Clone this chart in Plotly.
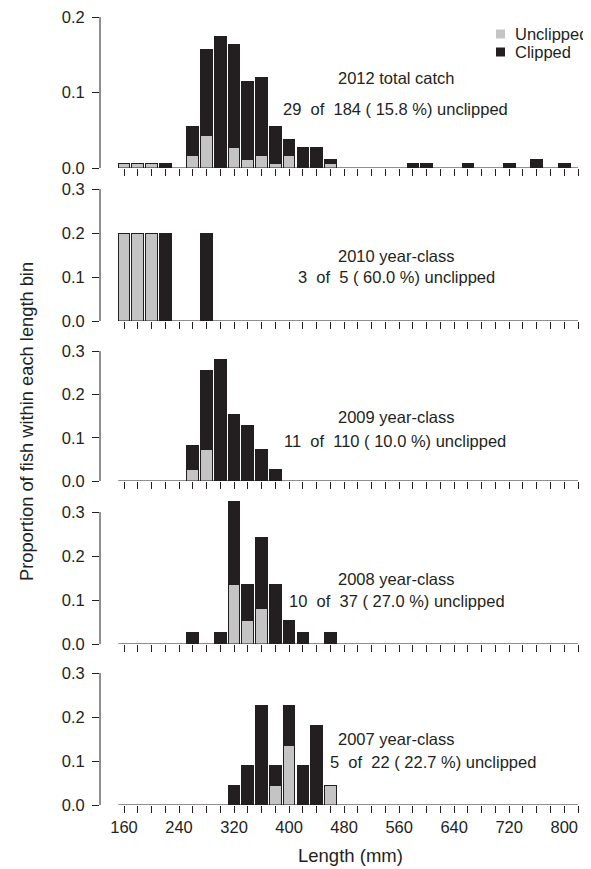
import plotly.graph_objects as go

# ---------------- data (fish counts per 20-mm length bin) ----------------
panel_labels = ["2012 total catch", "2010 year-class", "2009 year-class",
                "2008 year-class", "2007 year-class"]

len_2012 = [160, 180, 200, 220, 260, 280, 300, 320, 340, 360, 380, 400, 420, 440, 460, 580, 600, 660, 720, 760, 800]
unc_2012 = [1, 1, 1, 0, 3, 8, 0, 5, 2, 3, 1, 3, 0, 0, 1, 0, 0, 0, 0, 0, 0]
clp_2012 = [0, 0, 0, 1, 7, 21, 32, 25, 19, 19, 9, 4, 5, 5, 1, 1, 1, 1, 1, 2, 1]

len_2010 = [160, 180, 200, 220, 280]
unc_2010 = [1, 1, 1, 0, 0]
clp_2010 = [0, 0, 0, 1, 1]

len_2009 = [260, 280, 300, 320, 340, 360, 380]
unc_2009 = [3, 8, 0, 0, 0, 0, 0]
clp_2009 = [6, 20, 31, 17, 14, 8, 3]

len_2008 = [260, 300, 320, 340, 360, 380, 400, 420, 460]
unc_2008 = [0, 0, 5, 2, 3, 0, 0, 0, 0]
clp_2008 = [1, 1, 7, 3, 6, 5, 2, 1, 1]

len_2007 = [320, 340, 360, 380, 400, 420, 440, 460]
unc_2007 = [0, 0, 0, 1, 3, 0, 0, 1]
clp_2007 = [1, 2, 5, 1, 2, 2, 4, 0]

x_ticks = list(range(160, 821, 20))
x_label_vals = [160, 240, 320, 400, 480, 560, 640, 720, 800]

panels = [
    (len_2012, unc_2012, clp_2012),
    (len_2010, unc_2010, clp_2010),
    (len_2009, unc_2009, clp_2009),
    (len_2008, unc_2008, clp_2008),
    (len_2007, unc_2007, clp_2007),
]

# ---------------- layout geometry ----------------
# the page body adds an 8px offset, so the figure is drawn 8px smaller and
# all target positions (page pixels) are converted to figure pixels
OFF = 8
PAGE_W, PAGE_H = 591, 869
W, H = PAGE_W - OFF, PAGE_H - OFF
PLOT_LEFT, PLOT_RIGHT, PLOT_TOP, PLOT_BOTTOM = 100, 580, 8, 805   # page px
ML = PLOT_LEFT - OFF
MR = (PAGE_W - PLOT_RIGHT)
MT = PLOT_TOP - OFF
MB = PAGE_H - PLOT_BOTTOM
PLOT_H = H - MT - MB
PLOT_W = W - ML - MR

def py(p):
    return (PLOT_BOTTOM - p) / PLOT_H

def pxp(p):
    return (p - PLOT_LEFT) / PLOT_W

# (baseline px, px per unit, y-range top, y tick values)
geom = [
    (168, 755, 0.2, [0, 0.1, 0.2]),
    (321, 440, 0.3, [0, 0.1, 0.2, 0.3]),
    (481, 433, 0.3, [0, 0.1, 0.2, 0.3]),
    (644, 440, 0.335, [0, 0.1, 0.2, 0.3]),
    (805, 440, 0.3, [0, 0.1, 0.2, 0.3]),
]
# text positions (page px): line1 y, line2 y, line1 x-centre, line2 x-centre
text_pos = [
    (78, 109, 396, 395),
    (256, 277, 396, 396),
    (417, 441, 396, 395),
    (579, 601, 396, 397),
    (739, 762, 396, 433),
]

DARK = "#231f20"
GRAY = "#c4c4c4"
FONT = "Liberation Sans, Arial, sans-serif"
FS = 16.5

# x range: 160 mm at page px 124, 820 mm at page px 578
MM_PER_PX = (820 - 160) / (578 - 124)
X_RANGE = [160 - (124 - PLOT_LEFT) * MM_PER_PX, 820 + (PLOT_RIGHT - 578) * MM_PER_PX]

fig = go.Figure()
layout = dict(
    template="none",
    width=W, height=H, autosize=False,
    margin=dict(l=ML, r=MR, t=MT, b=MB, pad=0, autoexpand=False),
    plot_bgcolor="white", paper_bgcolor="white",
    barmode="stack", showlegend=False,
    font=dict(family=FONT, size=FS, color=DARK),
)
shapes = []
annotations = []

for i, ((lens, unc, clp), (base, scale, ytop, yt)) in enumerate(zip(panels, geom)):
    k = "" if i == 0 else str(i + 1)
    n = sum(unc) + sum(clp)
    u_tot = sum(unc)
    u_prop = [u / n if u > 0 else None for u in unc]
    c_prop = [c / n if c > 0 else None for c in clp]
    fig.add_trace(go.Bar(x=lens, y=u_prop, name="Unclipped", width=17,
                         marker=dict(color=GRAY, line=dict(color=DARK, width=1)),
                         xaxis="x" + k, yaxis="y" + k))
    fig.add_trace(go.Bar(x=lens, y=c_prop, name="Clipped", width=17,
                         marker=dict(color=DARK, line=dict(color=DARK, width=1)),
                         xaxis="x" + k, yaxis="y" + k))

    top_px = base - ytop * scale
    layout["yaxis" + k] = dict(
        domain=[py(base), py(top_px)], range=[0, ytop * 1.0005], anchor="x" + k,
        tickvals=yt, ticktext=["%.1f" % v for v in yt],
        ticks="outside", ticklen=7, tickwidth=1, tickcolor=DARK,
        showline=False, showgrid=False, zeroline=False, automargin=False,
        ticklabeloverflow="allow",
        ticklabelstandoff=4, tickfont=dict(size=FS, color=DARK, family=FONT),
    )
    last = (i == len(panels) - 1)
    layout["xaxis" + k] = dict(
        domain=[0, 1], range=X_RANGE, anchor="y" + k,
        tickvals=x_ticks,
        ticktext=[(str(v) if (last and v in x_label_vals) else "") for v in x_ticks],
        showticklabels=True, ticklabeloverflow="allow",
        ticks="outside", ticklen=7, tickwidth=1, tickcolor=DARK,
        showline=False, showgrid=False, zeroline=False, automargin=False,
        tickfont=dict(size=FS, color=DARK, family=FONT),
    )
    # y axis line from 0 to last tick
    shapes.append(dict(type="line", xref="x%s domain" % k, yref="y" + k,
                       x0=0, x1=0, y0=0, y1=yt[-1],
                       line=dict(color=DARK, width=1)))
    # baseline under the bars
    shapes.append(dict(type="line", xref="x" + k, yref="y" + k,
                       x0=160 - 8.5, x1=820, y0=0, y1=0,
                       line=dict(color=DARK, width=1)))

    y1, y2, xc1, xc2 = text_pos[i]
    annotations.append(dict(text=panel_labels[i], xref="paper", yref="paper",
                            x=pxp(xc1), y=py(y1), xanchor="center", yanchor="middle",
                            showarrow=False, font=dict(size=FS, color=DARK, family=FONT)))
    line2 = "%d\u00a0 of\u00a0 %d ( %.1f %%) unclipped" % (u_tot, n, 100.0 * u_tot / n)
    annotations.append(dict(text=line2, xref="paper", yref="paper",
                            x=pxp(xc2), y=py(y2), xanchor="center", yanchor="middle",
                            showarrow=False, font=dict(size=FS, color=DARK, family=FONT)))

# manual legend (top right, partly cut by the page edge as in the original)
for (label, col, ycen) in [("Unclipped", GRAY, 34), ("Clipped", DARK, 52)]:
    shapes.append(dict(type="rect", xref="paper", yref="paper",
                       x0=pxp(496), x1=pxp(505), y0=py(ycen + 4.5), y1=py(ycen - 4.5),
                       fillcolor=col, line=dict(width=0)))
    annotations.append(dict(text=label, xref="paper", yref="paper",
                            x=pxp(513), y=py(ycen), xanchor="left", yanchor="middle",
                            showarrow=False, font=dict(size=FS, color=DARK, family=FONT)))

# axis titles
annotations.append(dict(text="Length (mm)", xref="paper", yref="paper",
                        x=pxp(350), y=py(856), xanchor="center", yanchor="middle",
                        showarrow=False, font=dict(size=18.5, color=DARK, family=FONT)))
annotations.append(dict(text="Proportion of fish within each length bin",
                        xref="paper", yref="paper", textangle=-90,
                        x=pxp(26), y=py(422), xanchor="center", yanchor="middle",
                        showarrow=False, font=dict(size=18.3, color=DARK, family=FONT)))

layout["shapes"] = shapes
layout["annotations"] = annotations
fig.update_layout(**layout)
fig.write_html("out.html")
